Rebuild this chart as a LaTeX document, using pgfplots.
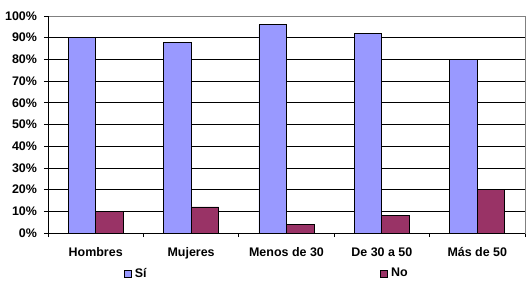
\documentclass[border=0pt]{standalone}
\usepackage{fontspec}
\setmainfont{Liberation Sans}
\usepackage{pgfplots}
\pgfplotsset{compat=1.18}
\definecolor{si}{HTML}{9999FF}
\definecolor{no}{HTML}{993366}
\begin{document}
\begin{tikzpicture}
\path[use as bounding box] (-48bp,-55bp) rectangle (482bp,233bp);
\begin{axis}[
  at={(0,0)}, anchor=south west,
  scale only axis, width=477bp, height=217bp,
  ybar=0pt, bar width=27.5bp,
  xmin=-0.5, xmax=4.5, ymin=0, ymax=100,
  xtick={-0.5,0.5,1.5,2.5,3.5,4.5},
  x tick label as interval,
  xticklabels={Hombres,Mujeres,Menos de 30,De 30 a 50,Más de 50},
  ytick={0,10,...,100},
  yticklabels={0\%,10\%,20\%,30\%,40\%,50\%,60\%,70\%,80\%,90\%,100\%},
  tick align=outside, xtick pos=left, ytick pos=left,
  major tick length=4bp,
  tick style={black, line width=0.8bp},
  ymajorgrids, grid style={black, line width=0.8bp},
  axis line style={draw=gray, line width=0.8bp},
  ticklabel style={font=\bfseries\fontsize{12.5}{14}\selectfont},
  yticklabel style={xshift=-3.5bp},
  xticklabel style={yshift=-7bp},
  legend style={at={(0.458,-0.186)}, anchor=center, draw=none,
    font=\bfseries\fontsize{12.5}{14}\selectfont,
    /tikz/every even column/.append style={column sep=232bp},
    nodes={inner sep=1.5bp}},
  legend columns=2,
  legend image code/.code={\draw[#1, line width=0.6bp] (0bp,-3.5bp) rectangle (7bp,3.5bp);},
]
\addplot[draw=black, fill=si, line width=0.8bp] coordinates {(0,90) (1,88) (2,96) (3,92) (4,80)};
\addlegendentry{\hspace{2bp}Sí}
\addplot[draw=black, fill=no, line width=0.8bp] coordinates {(0,10) (1,12) (2,4) (3,8) (4,20)};
\addlegendentry{\hspace{2bp}No}
\draw[black, line width=0.8bp] (rel axis cs:0,0) -- (rel axis cs:0,1);
\draw[black, line width=0.8bp] (rel axis cs:0,0) -- (rel axis cs:1,0);
\end{axis}
\end{tikzpicture}
\end{document}
